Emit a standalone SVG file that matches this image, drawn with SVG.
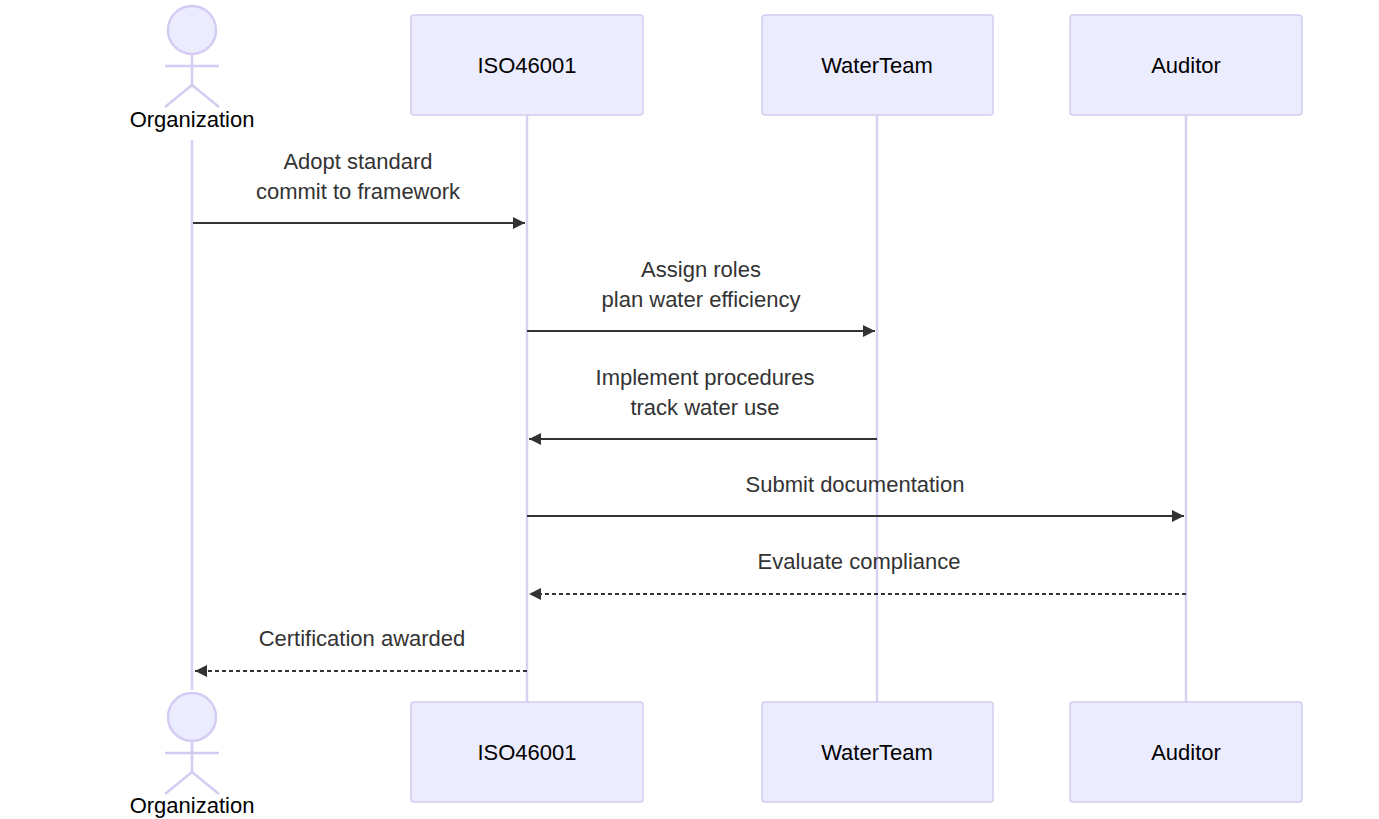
<svg xmlns="http://www.w3.org/2000/svg" width="1379" height="819" viewBox="0 0 1379 819">
<style>
.box{fill:#ECECFF;stroke:#D4CCF2;stroke-width:1.5}
.life{stroke:#D9D0F2;stroke-width:2.5}
.stick{fill:none;stroke:#D4CCF2;stroke-width:2.5}
.head{fill:#ECECFF;stroke:#D4CCF2;stroke-width:2.5}
.name{font-family:"Liberation Sans",Arial,sans-serif;font-size:22px;fill:#000;text-anchor:middle}
.msg{font-family:"Liberation Sans",Arial,sans-serif;font-size:22px;fill:#333;text-anchor:middle}
.line{stroke:#333;stroke-width:2;fill:none}
.dash{stroke:#333;stroke-width:2;fill:none;stroke-dasharray:4,3}
</style>
<defs>
<marker id="ah" viewBox="0 0 12 12" refX="12" refY="6" markerWidth="12" markerHeight="12" markerUnits="userSpaceOnUse" orient="auto"><path d="M0,0 L12,6 L0,12 z" fill="#333"/></marker>
</defs>
<g id="lifelines">
<line class="life" x1="192" y1="140" x2="192" y2="690"/>
<line class="life" x1="527" y1="115" x2="527" y2="702"/>
<line class="life" x1="877" y1="115" x2="877" y2="702"/>
<line class="life" x1="1186" y1="115" x2="1186" y2="702"/>
</g>
<g id="Organization-top">
<circle class="head" cx="192" cy="30" r="24"/>
<path class="stick" d="M192,54 V85 M165,66 H219 M192,85 L165,107 M192,85 L219,107"/>
<text class="name" x="192" y="127">Organization</text>
</g>
<g id="ISO46001-top"><rect class="box" x="411" y="15" width="232" height="100" rx="3"/><text class="name" x="527" y="73">ISO46001</text></g>
<g id="WaterTeam-top"><rect class="box" x="762" y="15" width="231" height="100" rx="3"/><text class="name" x="877" y="73">WaterTeam</text></g>
<g id="Auditor-top"><rect class="box" x="1070" y="15" width="232" height="100" rx="3"/><text class="name" x="1186" y="73">Auditor</text></g>
<g id="Organization-bottom">
<circle class="head" cx="192" cy="717" r="24"/>
<path class="stick" d="M192,741 V772 M165,753 H219 M192,772 L165,794 M192,772 L219,794"/>
<text class="name" x="192" y="813">Organization</text>
</g>
<g id="ISO46001-bottom"><rect class="box" x="411" y="702" width="232" height="100" rx="3"/><text class="name" x="527" y="760">ISO46001</text></g>
<g id="WaterTeam-bottom"><rect class="box" x="762" y="702" width="231" height="100" rx="3"/><text class="name" x="877" y="760">WaterTeam</text></g>
<g id="Auditor-bottom"><rect class="box" x="1070" y="702" width="232" height="100" rx="3"/><text class="name" x="1186" y="760">Auditor</text></g>
<g id="connectors">
<line class="line" x1="193" y1="223" x2="525" y2="223" marker-end="url(#ah)"/>
<text class="msg" x="358" y="169">Adopt standard</text><text class="msg" x="358" y="199">commit to framework</text>
<line class="line" x1="527" y1="331" x2="875" y2="331" marker-end="url(#ah)"/>
<text class="msg" x="701" y="277">Assign roles</text><text class="msg" x="701" y="307">plan water efficiency</text>
<line class="line" x1="877" y1="439" x2="529" y2="439" marker-end="url(#ah)"/>
<text class="msg" x="705" y="385">Implement procedures</text><text class="msg" x="705" y="415">track water use</text>
<line class="line" x1="527" y1="516" x2="1184" y2="516" marker-end="url(#ah)"/>
<text class="msg" x="855" y="492">Submit documentation</text>
<line class="dash" x1="1186" y1="594" x2="529" y2="594" marker-end="url(#ah)"/>
<text class="msg" x="859" y="569">Evaluate compliance</text>
<line class="dash" x1="527" y1="671" x2="195" y2="671" marker-end="url(#ah)"/>
<text class="msg" x="362" y="646">Certification awarded</text>
</g>
</svg>
